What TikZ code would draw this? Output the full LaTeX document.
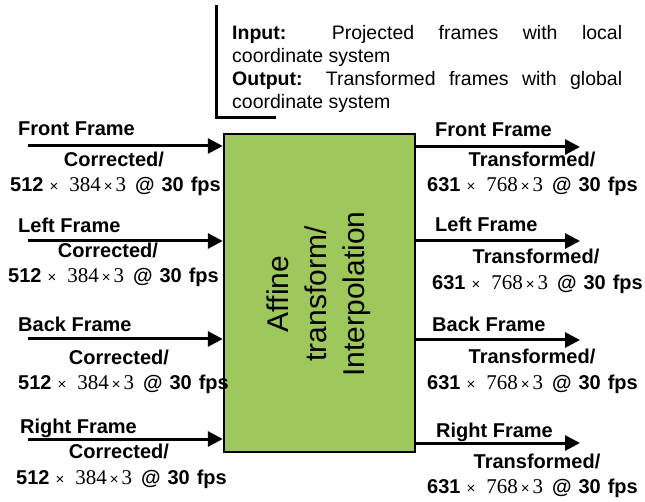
\documentclass[tikz,border=0pt]{standalone}
\usepackage{fontspec}
\setmainfont{Liberation Sans}
\newfontfamily\numserif{Liberation Serif}
\usetikzlibrary{arrows.meta}
\definecolor{boxgreen}{RGB}{158,200,92}

% frame size line: bold sans digits, serif middle figures
\newcommand{\timessign}{{\fontsize{15}{15}\selectfont ×}}
\newcommand{\dimline}[2]{\textbf{#1}\hspace{6pt}\timessign\hspace{11pt}{\numserif\fontsize{21}{21}\selectfont #2}\hspace{3pt}\timessign\hspace{3pt}{\numserif\fontsize{21}{21}\selectfont 3}\hspace{9pt}\textbf{@\hspace{7pt}30\hspace{7pt}fps}}

\tikzset{
  lbl/.style={inner sep=0pt, font=\fontsize{20}{20}\selectfont\bfseries},
  dims/.style={inner sep=0pt, font=\fontsize{20}{20}\selectfont},
  flow/.style={line width=3pt, -{Triangle[length=15pt,width=15pt]}},
  block/.style={draw=black, line width=2.5pt, fill=boxgreen},
}

\begin{document}
\begin{tikzpicture}[x=1pt,y=-1pt]
\useasboundingbox (0,0) rectangle (645,502);

% central processing block
\node[block, minimum width=191pt, minimum height=318pt, inner sep=0pt] (box) at (319.5,293) {};
\node[rotate=90, inner sep=0pt, align=center, font=\fontsize{30}{38}\selectfont] (boxtxt) at (319,294) {Affine\\transform/\\Interpolation};

% input / output description with bracket
\coordinate (brtop) at (216,5);
\coordinate (brend) at (276,118);
\draw[line width=3pt] (brtop) |- (brend);
\node[anchor=base west, inner sep=0pt, text width=390pt, align=justify,
      font=\fontsize{19.5}{23}\selectfont] (desc) at (232,40)
  {\textbf{Input:} Projected frames with local\linebreak coordinate system\par
   \textbf{Output:} Transformed frames with global\linebreak coordinate system};

% ---- inputs (left) ----
\coordinate (in1) at (28,146);
\coordinate (in2) at (28,241);
\coordinate (in3) at (28,339);
\coordinate (in4) at (28,439);
\draw[flow] (in1) -- (in1 -| box.west);
\draw[flow] (in2) -- (in2 -| box.west);
\draw[flow] (in3) -- (in3 -| box.west);
\draw[flow] (in4) -- (in4 -| box.west);

\node[lbl, anchor=base west] (inl1) at (18,136) {Front Frame};
\node[lbl, anchor=base] (inc1) at (114,167) {Corrected/};
\node[dims, anchor=base west] (ind1) at (10,192) {\dimline{512}{384}};

\node[lbl, anchor=base west] (inl2) at (18,233) {Left Frame};
\node[lbl, anchor=base] (inc2) at (108,258) {Corrected/};
\node[dims, anchor=base west] (ind2) at (8,283) {\dimline{512}{384}};

\node[lbl, anchor=base west] (inl3) at (18,332) {Back Frame};
\node[lbl, anchor=base] (inc3) at (119,364) {Corrected/};
\node[dims, anchor=base west] (ind3) at (18,389) {\dimline{512}{384}};

\node[lbl, anchor=base west] (inl4) at (20,433) {Right Frame};
\node[lbl, anchor=base] (inc4) at (119,458) {Corrected/};
\node[dims, anchor=base west] (ind4) at (16,484) {\dimline{512}{384}};

% ---- outputs (right) ----
\coordinate (out1) at (580,147);
\coordinate (out2) at (580,241);
\coordinate (out3) at (580,340);
\coordinate (out4) at (580,443);
\draw[flow] (out1 -| box.east) -- (out1);
\draw[flow] (out2 -| box.east) -- (out2);
\draw[flow] (out3 -| box.east) -- (out3);
\draw[flow] (out4 -| box.east) -- (out4);

\node[lbl, anchor=base west] (outl1) at (435,137) {Front Frame};
\node[lbl, anchor=base] (outc1) at (532,167) {Transformed/};
\node[dims, anchor=base west] (outd1) at (427,192) {\dimline{631}{768}};

\node[lbl, anchor=base west] (outl2) at (435,232) {Left Frame};
\node[lbl, anchor=base] (outc2) at (536,264) {Transformed/};
\node[dims, anchor=base west] (outd2) at (432,290) {\dimline{631}{768}};

\node[lbl, anchor=base west] (outl3) at (432,332) {Back Frame};
\node[lbl, anchor=base] (outc3) at (532,363) {Transformed/};
\node[dims, anchor=base west] (outd3) at (427,389) {\dimline{631}{768}};

\node[lbl, anchor=base west] (outl4) at (436,437) {Right Frame};
\node[lbl, anchor=base] (outc4) at (537,468) {Transformed/};
\node[dims, anchor=base west] (outd4) at (427,493) {\dimline{631}{768}};
\end{tikzpicture}
\end{document}
